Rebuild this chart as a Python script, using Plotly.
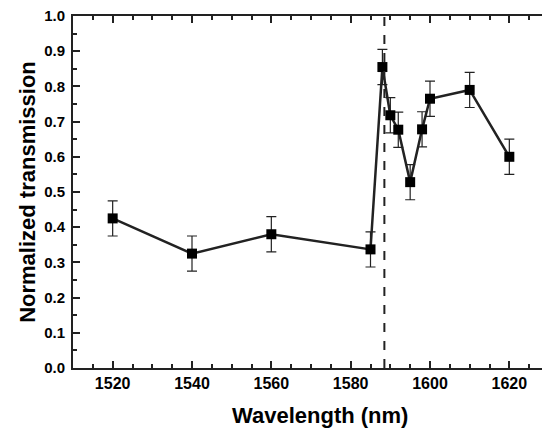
import plotly.graph_objects as go

wavelength = [1520, 1540, 1560, 1585, 1588, 1590, 1592, 1595, 1598, 1600, 1610, 1620]
transmission = [0.425, 0.325, 0.38, 0.337, 0.855, 0.718, 0.677, 0.528, 0.678, 0.765, 0.79, 0.6]
error = [0.05] * len(wavelength)
cutoff = 1588.5
x_ticks = [1520, 1540, 1560, 1580, 1600, 1620]

fig = go.Figure()
fig.add_trace(go.Scatter(
    x=wavelength, y=transmission, mode="lines+markers",
    line=dict(color="#222222", width=2.5),
    marker=dict(symbol="square", size=10, color="black"),
    error_y=dict(type="data", array=error, visible=True, color="#222222", thickness=1.2, width=5),
    showlegend=False,
))
fig.add_shape(type="line", x0=cutoff, x1=cutoff, y0=0, y1=1, xref="x", yref="y",
              line=dict(color="#222222", width=2, dash="dash"))

FONT = "Liberation Sans, Arial"
axis_common = dict(showline=True, linecolor="#222222", linewidth=2, mirror="ticks",
                   ticks="inside", ticklen=7, tickwidth=2, tickcolor="#222222",
                   showgrid=False, zeroline=False, automargin=False,
                   ticklabeloverflow="allow")

# page body has an 8px margin; compensate so the plot lands where the reference is
fig.update_layout(
    width=542, height=427,
    margin=dict(l=65, r=1, t=8, b=67),
    plot_bgcolor="white", paper_bgcolor="white",
    xaxis=dict(range=[1510, 1630], tickvals=x_ticks,
               minor=dict(dtick=5, tick0=1510, ticks="inside", ticklen=4, tickwidth=2, tickcolor="#222222"),
               tickformat="d", tickfont=dict(family=FONT, size=16, color="black", weight="bold"),
               **axis_common),
    yaxis=dict(range=[0, 1.0], dtick=0.1, tickformat=".1f",
               minor=dict(dtick=0.05, ticks="inside", ticklen=4, tickwidth=2, tickcolor="#222222"),
               tickfont=dict(family=FONT, size=15, color="black", weight="bold"),
               ticklabelstandoff=3, **axis_common),
    annotations=[
        dict(text="Wavelength (nm)", xref="paper", yref="paper", x=0.519, y=-0.134,
             xanchor="center", yanchor="middle", showarrow=False,
             font=dict(family=FONT, size=22, color="black", weight="bold")),
        dict(text="Normalized transmission", xref="paper", yref="paper", x=-0.097, y=0.5,
             xanchor="center", yanchor="middle", showarrow=False, textangle=-90,
             font=dict(family=FONT, size=22, color="black", weight="bold")),
    ],
)
fig.write_html("out.html")
